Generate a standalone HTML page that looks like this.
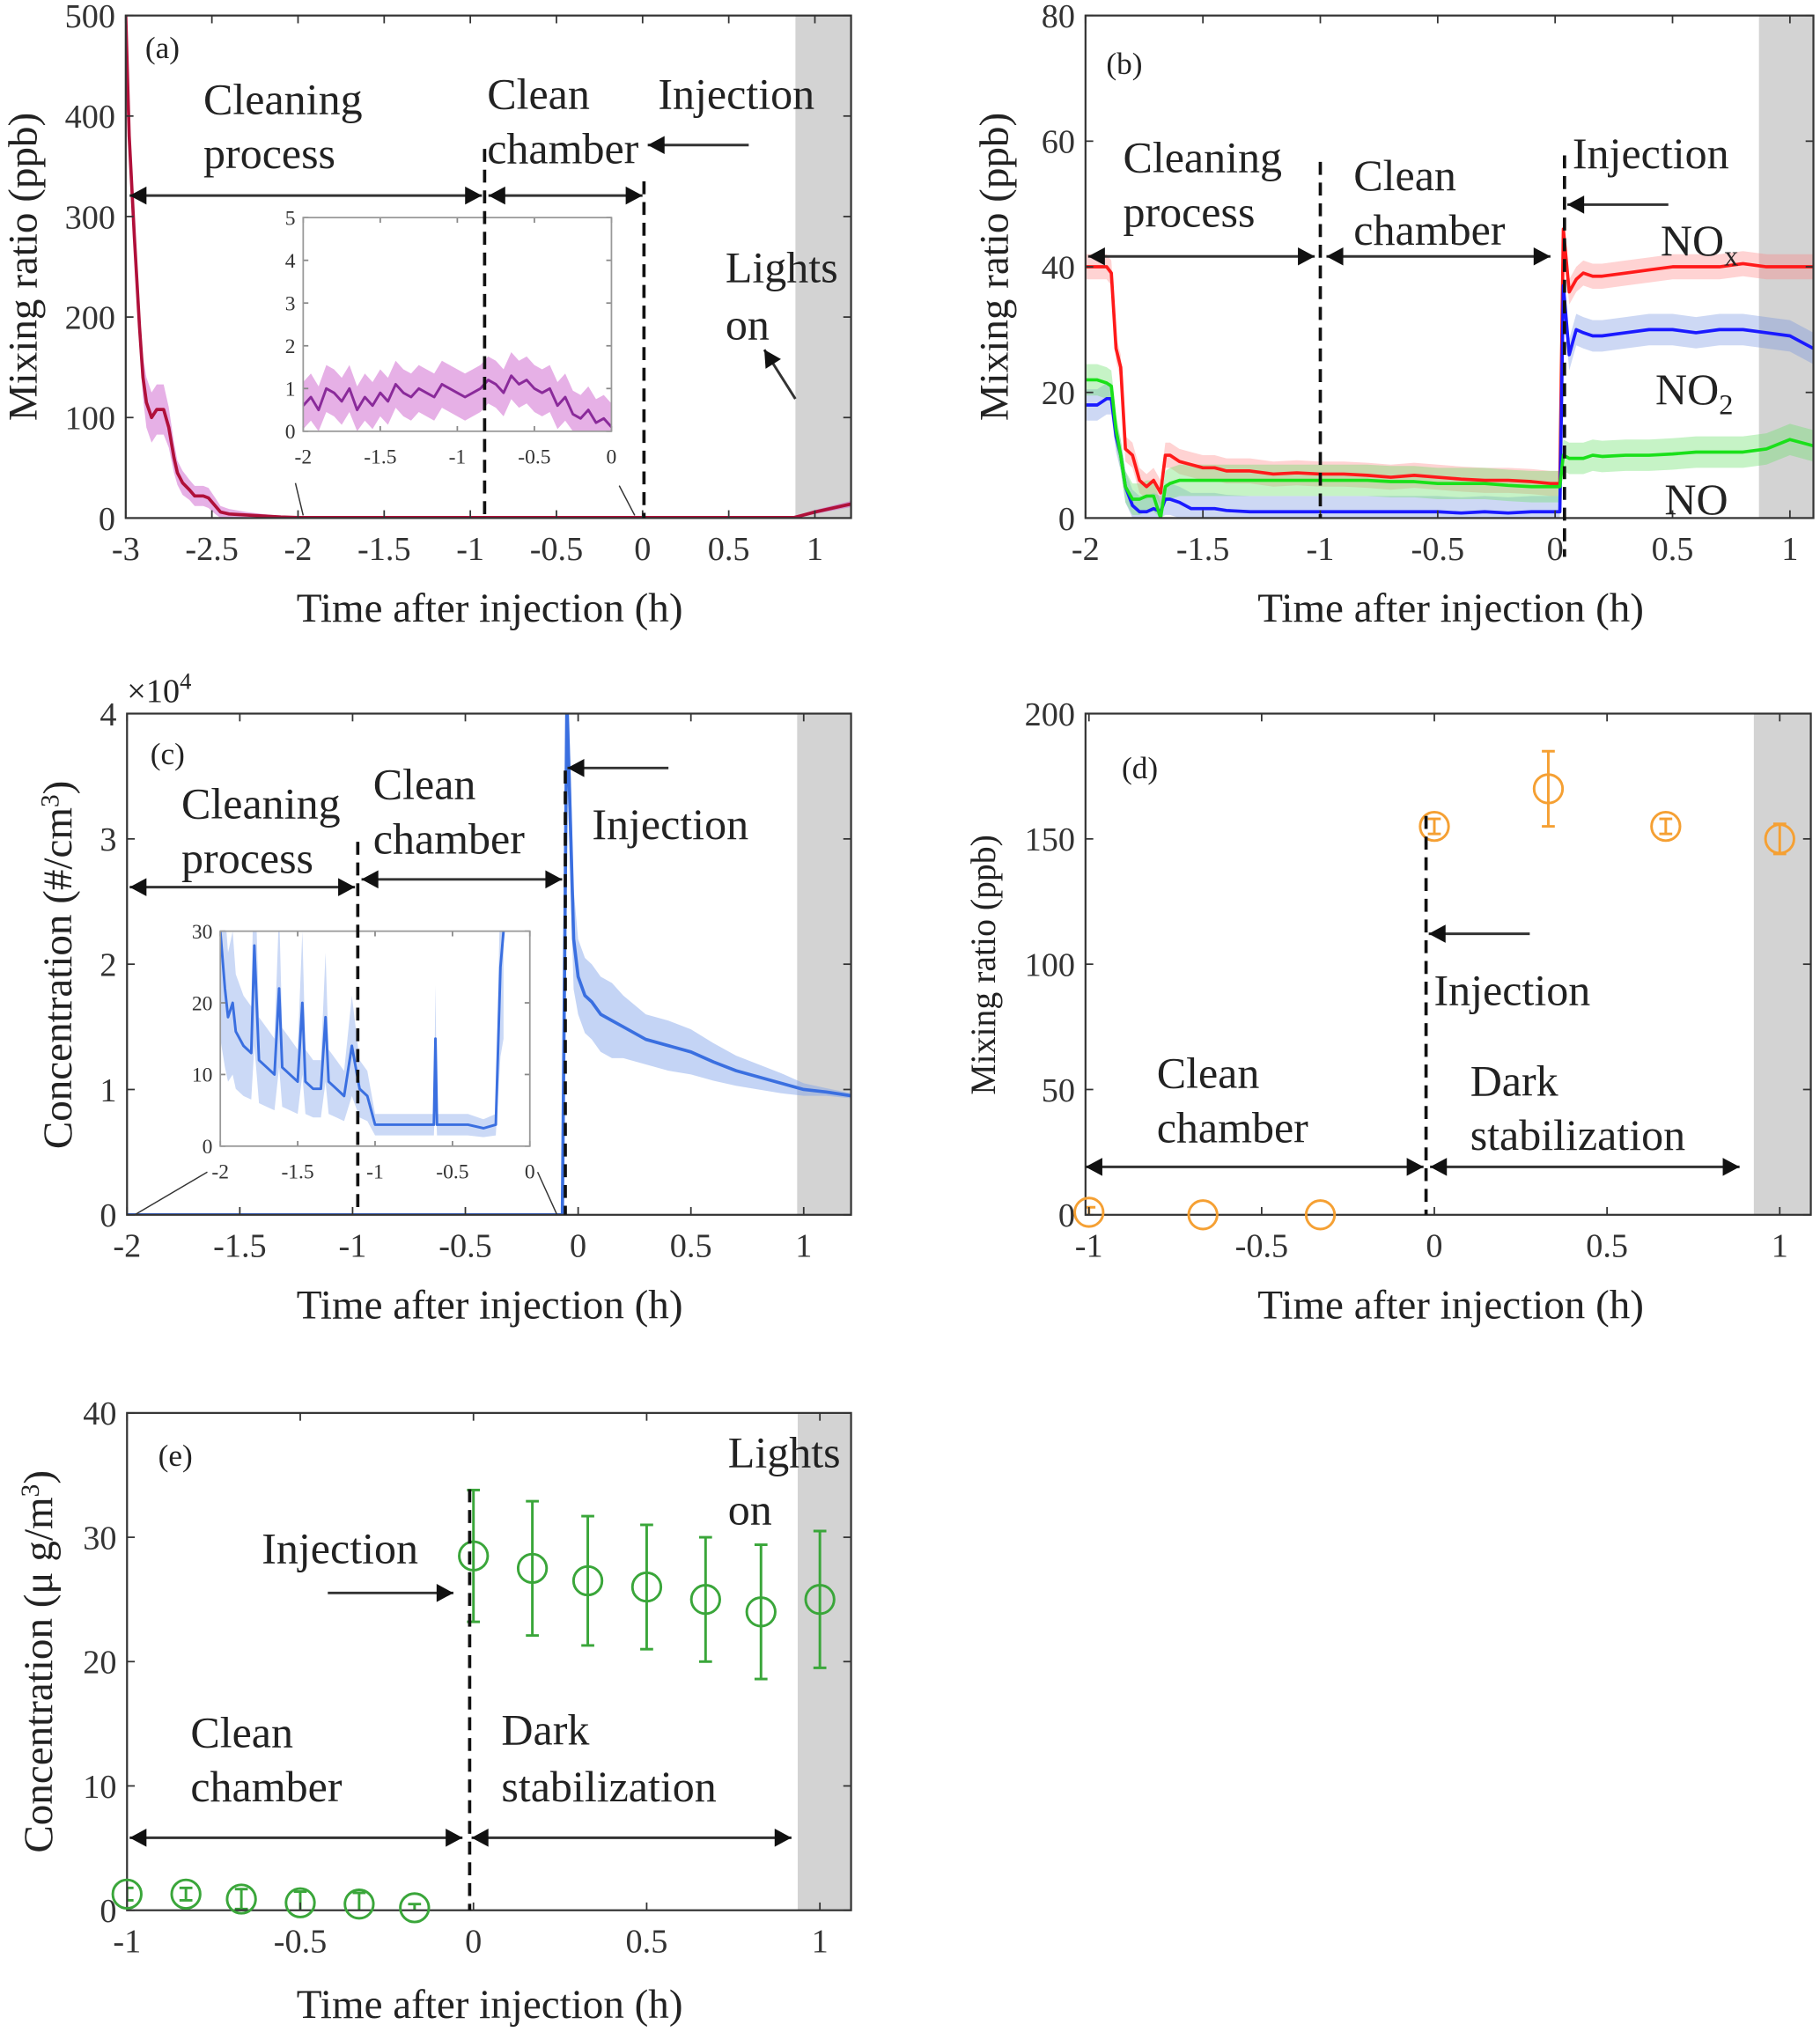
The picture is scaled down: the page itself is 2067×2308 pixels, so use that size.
<!DOCTYPE html>
<html><head><meta charset="utf-8">
<style>
html,body{margin:0;padding:0;background:#fff;}
svg{display:block;font-family:"Liberation Serif",serif;}
</style></head>
<body>
<svg id="fig" xmlns="http://www.w3.org/2000/svg" width="2067" height="2308" viewBox="0 0 1405 1569"></svg>
<script>
// ---------- data ----------
// panel a
const aT=[-3,-2.98,-2.95,-2.92,-2.9,-2.88,-2.85,-2.82,-2.78,-2.75,-2.72,-2.7,-2.67,-2.63,-2.6,-2.55,-2.52,-2.48,-2.45,-2.4,-2.3,-2.2,-2.1,-2.0,-1.5,-1.0,-0.5,0,0.5,0.88,1.0,1.21];
const aV=[500,380,280,190,140,115,100,108,108,90,60,45,35,28,22,22,20,12,6,4,3,2,1,0.5,0.5,0.5,0.5,0.5,0.5,0.5,6,14];
const aBand=[0,10,15,20,20,25,25,25,25,20,15,12,12,10,10,10,10,8,6,5,3,2,1,1,1,1,1,1,1,1,2,3];
const aInsetV=[0.6,0.8,0.5,1.0,0.9,0.7,1.0,0.5,0.8,0.6,0.9,0.7,1.1,0.9,0.8,1.0,0.9,0.8,1.1,1.0,0.9,0.8,0.9,1.0,1.2,1.1,0.9,1.3,1.1,1.2,1.0,0.9,1.0,0.6,0.8,0.4,0.3,0.5,0.2,0.3,0.1];
const aXTicks=[-3,-2.5,-2,-1.5,-1,-0.5,0,0.5,1];
const aXLabels=["-3","-2.5","-2","-1.5","-1","-0.5","0","0.5","1"];
const aYTicks=[0,100,200,300,400,500];
const aYLabels=["0","100","200","300","400","500"];
// panel b
const bT=[-2,-1.95,-1.91,-1.89,-1.87,-1.85,-1.83,-1.8,-1.77,-1.74,-1.71,-1.68,-1.66,-1.64,-1.6,-1.55,-1.5,-1.45,-1.4,-1.3,-1.2,-1.1,-1.0,-0.9,-0.8,-0.7,-0.6,-0.5,-0.4,-0.3,-0.2,-0.1,-0.02,0.02,0.035,0.06,0.09,0.12,0.16,0.2,0.3,0.4,0.5,0.6,0.7,0.8,0.9,1.0,1.1];
const bNOx=[40,40,40,39,27,24,11,10,6,5,6,4,10,10,9,8.5,8,8,7.5,7.5,7,7.2,7,7,6.8,6.5,6.8,6.5,6.2,6,6,5.8,5.5,5.5,46,36,38,39,38.5,38.5,39,39.5,40,40,40,40.5,40,40,40];
const bNO2=[18,18,19,19,13,10,5,2,1,1,1.5,1,3,3,2.5,1.5,1.5,1.5,1.2,1,1,1,1,1,1,1,1,1,0.8,1,0.8,1,1,1,37,26,30,29.5,29,29,29.5,30,30,29.5,30,30,29.5,29,27];
const bNO=[22,22,21.5,21,14,10,5,3,3,3.5,3.5,0,5,5.5,6,6,6,6,6,6,6,6,6,6,6,5.8,5.8,5.5,5.5,5.5,5.2,5,5,5,10,9.5,9.5,9.5,10,9.8,10,10,10.2,10.5,10.5,10.5,11,12.5,11.5];
const bXTicks=[-2,-1.5,-1,-0.5,0,0.5,1];
const bXLabels=["-2","-1.5","-1","-0.5","0","0.5","1"];
const bYTicks=[0,20,40,60,80];
const bYLabels=["0","20","40","60","80"];
// panel c
const cT=[-2,-0.07,-0.06,-0.05,-0.04,-0.02,0,0.03,0.06,0.1,0.15,0.2,0.3,0.4,0.5,0.6,0.7,0.8,0.9,1.0,1.1,1.21];
const cV=[0,0,2,4.1,3.5,2.2,1.9,1.75,1.7,1.6,1.55,1.5,1.4,1.35,1.3,1.22,1.15,1.1,1.05,1.0,0.98,0.95];
const cBand=[0,0,0.3,0.5,0.5,0.4,0.3,0.3,0.3,0.3,0.3,0.25,0.2,0.2,0.18,0.15,0.12,0.1,0.08,0.05,0.03,0.02];
const cInT=[-2,-1.97,-1.95,-1.92,-1.9,-1.85,-1.8,-1.78,-1.75,-1.7,-1.65,-1.62,-1.6,-1.55,-1.5,-1.47,-1.45,-1.4,-1.35,-1.32,-1.3,-1.25,-1.2,-1.15,-1.1,-1.05,-1.0,-0.95,-0.9,-0.8,-0.7,-0.62,-0.61,-0.6,-0.5,-0.4,-0.3,-0.22,-0.19,-0.17];
const cInV=[30,22,18,20,16,14,13,28,12,11,10,22,11,10,9,20,9,8,8,18,9,8,7,14,8,7,3,3,3,3,3,3,15,3,3,3,2.5,3,25,30];
const cXTicks=[-2,-1.5,-1,-0.5,0,0.5,1];
const cXLabels=["-2","-1.5","-1","-0.5","0","0.5","1"];
const cYTicks=[0,1,2,3,4];
const cYLabels=["0","1","2","3","4"];
// panel d
const dT=[-1,-0.67,-0.33,0,0.33,0.67,1];
const dV=[1,0,0,155,170,155,150];
const dErr=[2,0,0,3,15,3,6];
const dXTicks=[-1,-0.5,0,0.5,1];
const dXLabels=["-1","-0.5","0","0.5","1"];
const dYTicks=[0,50,100,150,200];
const dYLabels=["0","50","100","150","200"];
// panel e
const eT=[-1,-0.83,-0.67,-0.5,-0.33,-0.17,0,0.17,0.33,0.5,0.67,0.83,1];
const eV=[1.3,1.3,0.9,0.6,0.5,0.2,28.5,27.5,26.5,26,25,24,25];
const eErr=[0.5,0.5,0.8,0.9,0.9,0.3,5.3,5.4,5.2,5,5,5.4,5.5];
const eXTicks=[-1,-0.5,0,0.5,1];
const eXLabels=["-1","-0.5","0","0.5","1"];
const eYTicks=[0,10,20,30,40];
const eYLabels=["0","10","20","30","40"];

// ---------- helpers ----------
const NS="http://www.w3.org/2000/svg";
const svg=document.getElementById('fig');
function el(tag,name,parent,attrs){
  const e=document.createElementNS(NS,tag);
  
  
  for(const k in attrs) e.setAttribute(k,attrs[k]);
  (parent||svg).appendChild(e);
  return e;
}
function txt(s,x,y,size,name,parent,extra){
  const t=el('text',name,parent,Object.assign({x:x,y:y,'font-size':size,fill:'#222'},extra||{}));
  t.textContent=s;return t;
}
function scale(d0,d1,r0,r1){return v=>r0+(v-d0)/(d1-d0)*(r1-r0);}
let clipId=0;
function axes(name,b,xr,yr,xt,xl,yt,yl,opt){
  opt=opt||{};
  const g=el('g',name,svg,{});
  const X=scale(xr[0],xr[1],b.l,b.r), Y=scale(yr[0],yr[1],b.b,b.t);
  const cid='clip'+(clipId++);
  const cp=el('clipPath',name+'-clip',g,{id:cid});
  el('rect',name+'-clip-rect',cp,{x:b.l,y:b.t,width:b.r-b.l,height:b.b-b.t});
  const plot=el('g',name+'-plot-area',g,{'clip-path':'url(#'+cid+')'});
  const fs=opt.fs||26, tl=opt.tl||6, col=opt.col||'#333';
  xt.forEach((v,i)=>{
    const x=X(v);
    el('line',name+'-x-tick',g,{x1:x,x2:x,y1:b.b,y2:b.b-tl,stroke:col,'stroke-width':1.2});
    el('line',name+'-x-tick-top',g,{x1:x,x2:x,y1:b.t,y2:b.t+tl,stroke:col,'stroke-width':1.2});
    txt(xl[i],x,b.b+(opt.xlo||fs*1.25),fs,name+'-x-tick-label',g,{'text-anchor':'middle',fill:opt.lc||'#333'});
  });
  yt.forEach((v,i)=>{
    const y=Y(v);
    el('line',name+'-y-tick',g,{x1:b.l,x2:b.l+tl,y1:y,y2:y,stroke:col,'stroke-width':1.2});
    el('line',name+'-y-tick-right',g,{x1:b.r,x2:b.r-tl,y1:y,y2:y,stroke:col,'stroke-width':1.2});
    txt(yl[i],b.l-(opt.ylo||8),y+fs*0.35,fs,name+'-y-tick-label',g,{'text-anchor':'end',fill:opt.lc||'#333'});
  });
  return {g,plot,X,Y,b};
}
function box(A,name,col,w){
  const b=A.b;
  el('rect',name,A.g,{x:b.l,y:b.t,width:b.r-b.l,height:b.b-b.t,fill:'none',stroke:col||'#333','stroke-width':w||1.5});
}
function shade(A,x0,name){
  el('rect',name,A.plot,{x:A.X(x0),y:A.b.t,width:A.b.r-A.X(x0),height:A.b.b-A.b.t,fill:'#d3d3d3'});
}
function line(A,T,V,col,w,name,parent){
  const d=T.map((t,i)=>(i?'L':'M')+A.X(t).toFixed(2)+','+A.Y(V[i]).toFixed(2)).join('');
  return el('path',name,parent||A.plot,{d:d,fill:'none',stroke:col,'stroke-width':w,'stroke-linejoin':'round'});
}
function band(A,T,V,B,col,op,name,parent){
  let d=T.map((t,i)=>(i?'L':'M')+A.X(t).toFixed(2)+','+A.Y(V[i]+B[i]).toFixed(2)).join('');
  for(let i=T.length-1;i>=0;i--) d+='L'+A.X(T[i]).toFixed(2)+','+A.Y(Math.max(0,V[i]-B[i])).toFixed(2);
  return el('path',name,parent||A.plot,{d:d+'Z',fill:col,'fill-opacity':op,stroke:'none'});
}
function dash(x,y1,y2,name){
  el('line',name,svg,{x1:x,x2:x,y1:y1,y2:y2,stroke:'#111','stroke-width':2.5,'stroke-dasharray':'10,6'});
}
function head(x,y,dir,name){
  const s=13,h=7;
  el('polygon',name,svg,{points:`${x},${y} ${x-dir*s},${y-h} ${x-dir*s},${y+h}`,fill:'#111'});
}
function darrow(x1,x2,y,name){
  el('line',name,svg,{x1:x1,x2:x2,y1:y,y2:y,stroke:'#333','stroke-width':2});
  head(x1,y,-1,name+'-left-head');head(x2,y,1,name+'-right-head');
}
function arrow(x1,y1,x2,y2,name){
  el('line',name,svg,{x1:x1,x2:x2,y1:y1,y2:y2,stroke:'#333','stroke-width':2});
  const a=Math.atan2(y2-y1,x2-x1),s=13,h=7;
  const bx=x2-s*Math.cos(a),by=y2-s*Math.sin(a);
  el('polygon',name+'-head',svg,{points:`${x2},${y2} ${bx-h*Math.sin(a)},${by+h*Math.cos(a)} ${bx+h*Math.sin(a)},${by-h*Math.cos(a)}`,fill:'#111'});
}
function ytitle(s,x,y,size,name){
  const t=txt(s,x,y,size,name,svg,{'text-anchor':'middle',transform:`rotate(-90 ${x} ${y})`});return t;
}
const AF=34, TF=32;

// ---------- panel a ----------
const A=axes('panel-a',{l:97,r:657,t:12,b:400},[-3,1.21],[0,500],aXTicks,aXLabels,aYTicks,aYLabels);
shade(A,0.887,'panel-a-lights-on-shade');
band(A,aT,aV,aBand,'#c84fc8',0.45,'panel-a-band');
line(A,aT,aV,'#b0103a',2.5,'panel-a-line');
box(A,'panel-a-frame');
const AI=axes('panel-a-inset',{l:234,r:472,t:168,b:333},[-2,0],[0,5],[-2,-1.5,-1,-0.5,0],["-2","-1.5","-1","-0.5","0"],[0,1,2,3,4,5],["0","1","2","3","4","5"],{fs:16,tl:4,col:'#888',xlo:25,ylo:6});
const aInsetT=aInsetV.map((v,i)=>-2+i*0.05);
band(AI,aInsetT,aInsetV,aInsetV.map(v=>0.55),'#c84fc8',0.45,'panel-a-inset-band');
line(AI,aInsetT,aInsetV,'#8a2a9a',2,'panel-a-inset-line');
box(AI,'panel-a-inset-frame','#999',1.2);
el('line','panel-a-inset-connector',svg,{x1:228,y1:373,x2:234,y2:398,stroke:'#333','stroke-width':1});
el('line','panel-a-inset-connector',svg,{x1:478,y1:375,x2:490,y2:398,stroke:'#333','stroke-width':1});
dash(A.X(-0.917),115,400,'panel-a-dashed-clean-start');
dash(A.X(0.008),140,400,'panel-a-dashed-injection');
darrow(100,372,151,'panel-a-cleaning-arrow');
darrow(377,496,151,'panel-a-clean-arrow');
arrow(578,112,500,112,'panel-a-injection-arrow');
arrow(614,308,590,270,'panel-a-lights-arrow');
txt('(a)',112,45,24,'panel-a-label');
txt('Cleaning',157,88,AF,'panel-a-cleaning-text');txt('process',157,130,AF,'panel-a-process-text');
txt('Clean',376,84,AF,'panel-a-clean-text');txt('chamber',376,126,AF,'panel-a-chamber-text');
txt('Injection',508,84,AF,'panel-a-injection-text');
txt('Lights',560,218,AF,'panel-a-lights-text');txt('on',560,262,AF,'panel-a-on-text');
txt('Time after injection (h)',378,480,TF,'panel-a-x-axis-title',svg,{'text-anchor':'middle'});
ytitle('Mixing ratio (ppb)',28,206,TF,'panel-a-y-axis-title');

// ---------- panel b ----------
const B=axes('panel-b',{l:838,r:1400,t:12,b:400},[-2,1.1],[0,80],bXTicks,bXLabels,bYTicks,bYLabels);
shade(B,0.868,'panel-b-lights-on-shade');
band(B,bT,bNOx,bNOx.map(v=>2),'#ff8080',0.35,'panel-b-nox-band');
band(B,bT,bNO2,bNO2.map(v=>2.5),'#7090e0',0.35,'panel-b-no2-band');
band(B,bT,bNO,bNO.map(v=>2.5),'#70e070',0.4,'panel-b-no-band');
line(B,bT,bNOx,'#ff1a1a',2.5,'panel-b-nox-line');
line(B,bT,bNO2,'#1a1aff',2.5,'panel-b-no2-line');
line(B,bT,bNO,'#1ae01a',2.5,'panel-b-no-line');
box(B,'panel-b-frame');
dash(B.X(-1),125,400,'panel-b-dashed-clean-start');
dash(B.X(0.04),120,430,'panel-b-dashed-injection');
darrow(840,1015,198,'panel-b-cleaning-arrow');
darrow(1024,1197,198,'panel-b-clean-arrow');
arrow(1288,158,1210,158,'panel-b-injection-arrow');
txt('(b)',854,57,24,'panel-b-label');
txt('Cleaning',867,133,AF,'panel-b-cleaning-text');txt('process',867,175,AF,'panel-b-process-text');
txt('Clean',1045,147,AF,'panel-b-clean-text');txt('chamber',1045,189,AF,'panel-b-chamber-text');
txt('Injection',1214,130,AF,'panel-b-injection-text');
(function(){const t=txt('NO',1282,197,AF,'panel-b-nox-label');const s=document.createElementNS(NS,'tspan');s.setAttribute('font-size','22');s.setAttribute('dy','8');s.textContent='x';t.appendChild(s);})();
(function(){const t=txt('NO',1278,312,AF,'panel-b-no2-label');const s=document.createElementNS(NS,'tspan');s.setAttribute('font-size','22');s.setAttribute('dy','8');s.textContent='2';t.appendChild(s);})();
txt('NO',1285,397,AF,'panel-b-no-label');
txt('Time after injection (h)',1120,480,TF,'panel-b-x-axis-title',svg,{'text-anchor':'middle'});
ytitle('Mixing ratio (ppb)',778,206,TF,'panel-b-y-axis-title');

// ---------- panel c ----------
const C=axes('panel-c',{l:98,r:657,t:551,b:938},[-2,1.21],[0,4],cXTicks,cXLabels,cYTicks,cYLabels);
shade(C,0.971,'panel-c-lights-on-shade');
band(C,cT,cV,cBand,'#7da0e8',0.45,'panel-c-band');
line(C,cT,cV,'#3a6fe0',2.5,'panel-c-line');
box(C,'panel-c-frame');
const CI=axes('panel-c-inset',{l:170,r:409,t:719,b:885},[-2,0],[0,30],[-2,-1.5,-1,-0.5,0],["-2","-1.5","-1","-0.5","0"],[0,10,20,30],["0","10","20","30"],{fs:16,tl:4,col:'#888',xlo:25,ylo:6});
band(CI,cInT,cInV,cInV.map(v=>v*0.5),'#7da0e8',0.4,'panel-c-inset-band');
line(CI,cInT,cInV,'#3a6fe0',2,'panel-c-inset-line');
box(CI,'panel-c-inset-frame','#999',1.2);
el('line','panel-c-inset-connector',svg,{x1:104,y1:938,x2:160,y2:905,stroke:'#333','stroke-width':1});
el('line','panel-c-inset-connector',svg,{x1:430,y1:938,x2:415,y2:905,stroke:'#333','stroke-width':1});
dash(C.X(-0.977),650,938,'panel-c-dashed-clean-start');
dash(C.X(-0.057),595,938,'panel-c-dashed-injection');
darrow(100,274,685,'panel-c-cleaning-arrow');
darrow(279,434,679,'panel-c-clean-arrow');
arrow(516,593,438,593,'panel-c-injection-arrow');
(function(){const t=txt('×10',98,542,26,'panel-c-exponent-label');const s=document.createElementNS(NS,'tspan');s.setAttribute('font-size','18');s.setAttribute('dy','-10');s.textContent='4';t.appendChild(s);})();
txt('(c)',116,590,24,'panel-c-label');
txt('Cleaning',140,632,AF,'panel-c-cleaning-text');txt('process',140,674,AF,'panel-c-process-text');
txt('Clean',288,617,AF,'panel-c-clean-text');txt('chamber',288,659,AF,'panel-c-chamber-text');
txt('Injection',457,648,AF,'panel-c-injection-text');
txt('Time after injection (h)',378,1018,TF,'panel-c-x-axis-title',svg,{'text-anchor':'middle'});
(function(){const t=ytitle('Concentration (#/cm',55,745,TF,'panel-c-y-axis-title');const s=document.createElementNS(NS,'tspan');s.setAttribute('font-size','20');s.setAttribute('dy','-10');s.textContent='3';t.appendChild(s);const s2=document.createElementNS(NS,'tspan');s2.setAttribute('dy','10');s2.textContent=')';t.appendChild(s2);})();

// ---------- panel d ----------
const D=axes('panel-d',{l:838,r:1398,t:551,b:938},[-1.01,1.09],[0,200],dXTicks,dXLabels,dYTicks,dYLabels);
shade(D,0.925,'panel-d-lights-on-shade');
dT.forEach((t,i)=>{
  const x=D.X(t),y=D.Y(dV[i]);
  if(dErr[i]>0){
    el('line','panel-d-error-bar',D.plot,{x1:x,x2:x,y1:D.Y(dV[i]-dErr[i]),y2:D.Y(dV[i]+dErr[i]),stroke:'#f5a033','stroke-width':2});
    el('line','panel-d-error-cap',D.plot,{x1:x-5,x2:x+5,y1:D.Y(dV[i]-dErr[i]),y2:D.Y(dV[i]-dErr[i]),stroke:'#f5a033','stroke-width':2});
    el('line','panel-d-error-cap',D.plot,{x1:x-5,x2:x+5,y1:D.Y(dV[i]+dErr[i]),y2:D.Y(dV[i]+dErr[i]),stroke:'#f5a033','stroke-width':2});
  }
  el('circle','panel-d-point',svg,{cx:x,cy:y,r:11,fill:'none',stroke:'#f5a033','stroke-width':2});
});
box(D,'panel-d-frame');
dash(D.X(-0.024),630,938,'panel-d-dashed-injection');
darrow(838,1099,901,'panel-d-clean-arrow');
darrow(1104,1343,901,'panel-d-dark-arrow');
arrow(1181,721,1103,721,'panel-d-injection-arrow');
txt('(d)',866,601,24,'panel-d-label');
txt('Injection',1107,776,AF,'panel-d-injection-text');
txt('Clean',893,840,AF,'panel-d-clean-text');txt('chamber',893,882,AF,'panel-d-chamber-text');
txt('Dark',1135,846,AF,'panel-d-dark-text');txt('stabilization',1135,888,AF,'panel-d-stabilization-text');
txt('Time after injection (h)',1120,1018,TF,'panel-d-x-axis-title',svg,{'text-anchor':'middle'});
ytitle('Mixing ratio (ppb)',768,745,27,'panel-d-y-axis-title');

// ---------- panel e ----------
const E=axes('panel-e',{l:98,r:657,t:1091,b:1475},[-1,1.09],[0,40],eXTicks,eXLabels,eYTicks,eYLabels);
shade(E,0.936,'panel-e-lights-on-shade');
eT.forEach((t,i)=>{
  const x=E.X(t),y=E.Y(eV[i]);
  el('line','panel-e-error-bar',E.plot,{x1:x,x2:x,y1:E.Y(eV[i]-eErr[i]),y2:E.Y(eV[i]+eErr[i]),stroke:'#3aa63a','stroke-width':2});
  el('line','panel-e-error-cap',E.plot,{x1:x-5,x2:x+5,y1:E.Y(eV[i]-eErr[i]),y2:E.Y(eV[i]-eErr[i]),stroke:'#3aa63a','stroke-width':2});
  el('line','panel-e-error-cap',E.plot,{x1:x-5,x2:x+5,y1:E.Y(eV[i]+eErr[i]),y2:E.Y(eV[i]+eErr[i]),stroke:'#3aa63a','stroke-width':2});
  el('circle','panel-e-point',svg,{cx:x,cy:y,r:11,fill:'none',stroke:'#3aa63a','stroke-width':2});
});
box(E,'panel-e-frame');
dash(E.X(-0.011),1150,1475,'panel-e-dashed-injection');
darrow(100,357,1419,'panel-e-clean-arrow');
darrow(364,611,1419,'panel-e-dark-arrow');
arrow(253,1230,350,1230,'panel-e-injection-arrow');
txt('(e)',122,1132,24,'panel-e-label');
txt('Lights',562,1133,AF,'panel-e-lights-text');txt('on',562,1177,AF,'panel-e-on-text');
txt('Injection',202,1207,AF,'panel-e-injection-text');
txt('Clean',147,1349,AF,'panel-e-clean-text');txt('chamber',147,1391,AF,'panel-e-chamber-text');
txt('Dark',387,1347,AF,'panel-e-dark-text');txt('stabilization',387,1391,AF,'panel-e-stabilization-text');
txt('Time after injection (h)',378,1558,TF,'panel-e-x-axis-title',svg,{'text-anchor':'middle'});
(function(){const t=ytitle('Concentration (μ g/m',40,1283,TF,'panel-e-y-axis-title');const s=document.createElementNS(NS,'tspan');s.setAttribute('font-size','20');s.setAttribute('dy','-10');s.textContent='3';t.appendChild(s);const s2=document.createElementNS(NS,'tspan');s2.setAttribute('dy','10');s2.textContent=')';t.appendChild(s2);})();
</script>
</body></html>
